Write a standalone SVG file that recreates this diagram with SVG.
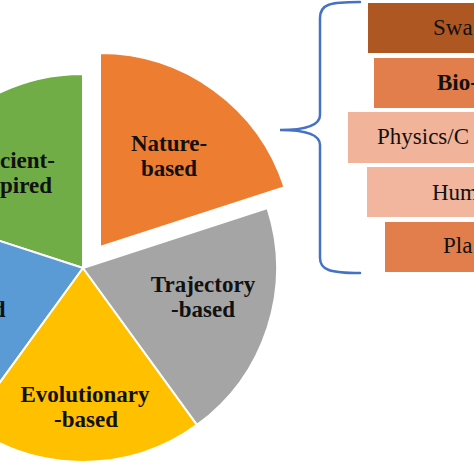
<svg xmlns="http://www.w3.org/2000/svg" width="474" height="474" viewBox="0 0 474 474">
<style>
.s{stroke:#fff;stroke-width:2;stroke-linejoin:round}
.pl{font-family:"Liberation Serif","Times New Roman",serif;font-weight:bold;font-size:23px;fill:#111;text-anchor:middle}
.bl{font-family:"Liberation Serif","Times New Roman",serif;font-size:23px;fill:#111}
.br{fill:none;stroke:#4472C4;stroke-width:2.5;stroke-linecap:round}
</style>
<rect width="474" height="474" fill="#fff"/>
<g id="pie">
<g id="green"><path class="s" fill="#70AD47" d="M83,268 L-101.5,208.1 A194,194 0 0 1 83,74 Z"/>
<text class="pl" style="text-anchor:start" x="0" y="168">cient-</text>
<text class="pl" style="text-anchor:start" x="0" y="193">pired</text></g>
<g id="blue"><path class="s" fill="#5B9BD5" d="M83,268 L-31,424.9 A194,194 0 0 1 -101.5,208.1 Z"/>
<text class="pl" style="text-anchor:end" x="5.5" y="317">d</text></g>
<g id="yellow"><path class="s" fill="#FFC000" d="M83,268 L197,424.9 A194,194 0 0 1 -31,424.9 Z"/>
<text class="pl" x="85" y="402">Evolutionary</text>
<text class="pl" x="86" y="427">-based</text></g>
<g id="grey"><path class="s" fill="#A5A5A5" d="M83,268 L267.5,208.1 A194,194 0 0 1 197,424.9 Z"/>
<text class="pl" x="203" y="292">Trajectory</text>
<text class="pl" x="203" y="317">-based</text></g>
<g id="orange"><path class="s" fill="#ED7D31" d="M100,247 L100,53 A194,194 0 0 1 284.5,187.1 Z"/>
<text class="pl" x="169" y="151">Nature-</text>
<text class="pl" x="169" y="176">based</text></g>
</g>
<g id="connectors">
<path class="br" d="M360,2 C330,2 320,4 320,18 L320,115 C320,126 305,130 280,130 C305,130 320,134 320,145 L320,258 C320,270 330,273 360,273"/>
</g>
<g id="swarm"><rect x="368" y="3" width="110" height="50" fill="#AE5722"/>
<text class="bl" x="433" y="35">Swa</text></g>
<g id="bio"><rect x="374" y="58" width="104" height="50" fill="#E27E4B"/>
<text class="bl" style="font-weight:bold" x="437" y="90">Bio-</text></g>
<g id="physics"><rect x="348" y="112" width="130" height="51" fill="#F2B39B"/>
<text class="bl" x="377" y="144">Physics/C</text></g>
<g id="human"><rect x="367" y="167" width="111" height="50" fill="#F2B59D"/>
<text class="bl" x="432" y="200">Hum</text></g>
<g id="plant"><rect x="385" y="222" width="93" height="50" fill="#E27E4B"/>
<text class="bl" x="443" y="253">Pla</text></g>
</svg>
